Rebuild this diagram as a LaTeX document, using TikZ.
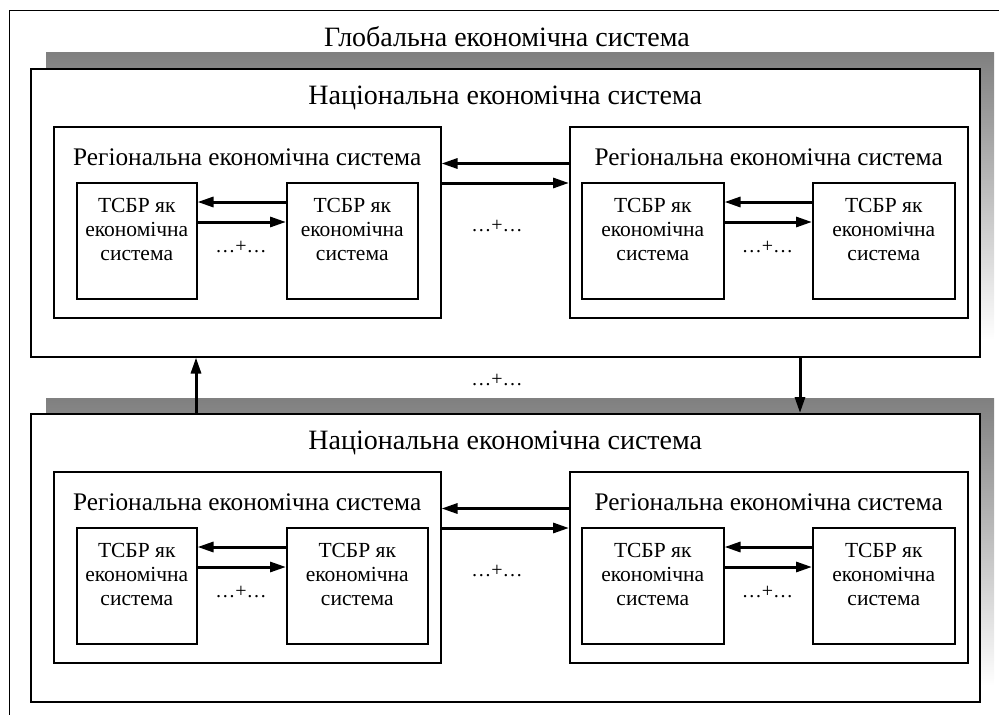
\documentclass[tikz,border=0pt]{standalone}
\usepackage{fontspec}
\setmainfont{Liberation Serif}
\usetikzlibrary{arrows.meta,calc}
\definecolor{shade}{RGB}{192,192,192}
\begin{document}
\begin{tikzpicture}[x=1pt,y=-1pt,
  box/.style={draw, line width=1.5pt, fill=white, inner sep=0pt, anchor=north west},
  arr/.style={line width=3pt, -{Triangle[length=16pt,width=10pt]}},
  big/.style={font=\fontsize{28}{32}\selectfont, inner sep=0pt},
  mid/.style={font=\fontsize{25.3}{30}\selectfont, inner sep=0pt},
  small/.style={font=\fontsize{21.5}{24}\selectfont, inner sep=0pt, align=center},
  dots/.style={font=\fontsize{20}{24}\selectfont, inner sep=0pt}]
\useasboundingbox (0,0) rectangle (999,715);
% outer frame
\draw[line width=1pt] (9,715) -- (9,10) -- (999,10);
\node[big] (glob) at (507,37) {Глобальна економічна система};
% shadows
\fill[shade] (46,52) rectangle (994,340);
\fill[shade] (46,398) rectangle (994,686);
% national boxes
\node[box, minimum width=949pt, minimum height=288pt] (n1) at (30,68) {};
\node[box, minimum width=949pt, minimum height=288pt] (n2) at (30,413) {};
\node[big] (n1t) at ([yshift=-30pt]n1.north) {Національна економічна система};
\node[big] (n2t) at ([yshift=-30pt]n2.north) {Національна економічна система};
% regional boxes
\node[box, minimum width=387pt, minimum height=191pt] (r11) at (53,126) {};
\node[box, minimum width=398pt, minimum height=191pt] (r12) at (569,126) {};
\node[box, minimum width=387pt, minimum height=191pt] (r21) at (53,471) {};
\node[box, minimum width=398pt, minimum height=191pt] (r22) at (569,471) {};
\foreach \r in {r11,r12,r21,r22}{
  \node[mid] (\r t) at ([yshift=-31pt]\r.north) {Регіональна економічна система};
}
% TSBR boxes
\node[box, minimum width=120pt, minimum height=116pt] (t111) at (76,182) {};
\node[box, minimum width=131pt, minimum height=116pt] (t112) at (286,182) {};
\node[box, minimum width=142pt, minimum height=116pt] (t121) at (581,182) {};
\node[box, minimum width=142pt, minimum height=116pt] (t122) at (812,182) {};
\node[box, minimum width=120pt, minimum height=116pt] (t211) at (76,527) {};
\node[box, minimum width=141pt, minimum height=116pt] (t212) at (286,527) {};
\node[box, minimum width=142pt, minimum height=116pt] (t221) at (581,527) {};
\node[box, minimum width=142pt, minimum height=116pt] (t222) at (812,527) {};
\foreach \t in {t111,t112,t121,t122,t211,t212,t221,t222}{
  \node[small] (\t t) at ([yshift=-47pt]\t.north) {ТСБР як\\економічна\\система};
}
% arrows between TSBR boxes
\foreach \a/\b in {t111/t112,t121/t122,t211/t212,t221/t222}{
  \draw[arr] ([yshift=-20pt]\b.north west) -- ([yshift=-20pt]\a.north east);
  \draw[arr] ([yshift=-40pt]\a.north east) -- ([yshift=-40pt]\b.north west);
}
% arrows between regional boxes
\foreach \a/\b in {r11/r12,r21/r22}{
  \draw[arr] ([yshift=-37.5pt]\b.north west) -- ([yshift=-37.5pt]\a.north east);
  \draw[arr] ([yshift=-57pt]\a.north east) -- ([yshift=-57pt]\b.north west);
}
% arrows between national boxes
\draw[arr] ([xshift=166pt]n2.north west) -- ([xshift=166pt]n1.south west);
\draw[arr] ([xshift=770pt]n1.south west) -- ([xshift=770pt]n2.north west);
% dots
\node[dots] (d111) at (241,247) {…+…};
\node[dots] (d121) at (767.5,247) {…+…};
\node[dots] (d211) at (241,592) {…+…};
\node[dots] (d221) at (767.5,592) {…+…};
\node[dots] (d1) at (497,226) {…+…};
\node[dots] (d2) at (497,571) {…+…};
\node[dots] (dm) at (497,380) {…+…};
\end{tikzpicture}
\end{document}
